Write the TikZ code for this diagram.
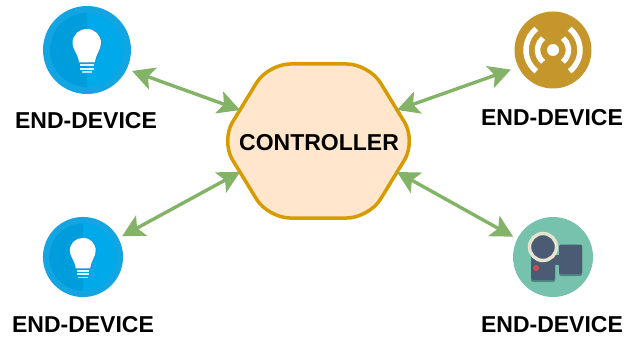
\documentclass[tikz,border=0pt]{standalone}
\usepackage{fontspec}
\setmainfont{Liberation Sans}
\usetikzlibrary{arrows.meta}
\definecolor{arrowgreen}{HTML}{82B366}
\definecolor{hexline}{HTML}{D79B00}
\definecolor{hexfill}{HTML}{FFE6CC}
\definecolor{bulbout}{HTML}{12A5E2}
\definecolor{bulbleft}{HTML}{009DDD}
\definecolor{bulbright}{HTML}{00A9EA}
\definecolor{bulbshade}{HTML}{0A86B8}
\definecolor{radio}{HTML}{C4962C}
\definecolor{camgreen}{HTML}{76C2AC}
\definecolor{cambody}{HTML}{4B5B74}
\definecolor{camshade}{HTML}{4A8A82}
\definecolor{camring}{HTML}{E6E3D2}
\definecolor{camred}{HTML}{C9504F}
\tikzset{
  x=1pt,y=-1pt,
  link/.style={line width=3.4pt,arrowgreen,{Stealth[length=22pt,width=23pt,inset=5pt]}-{Stealth[length=22pt,width=23pt,inset=5pt]}},
  devlabel/.style={font=\fontsize{23}{26}\selectfont\bfseries,inner sep=0pt},
  devdisc/.style={circle,inner sep=0pt,minimum size=#1},
  bulb/.pic={
    \fill[bulbout] (0,0) circle[radius=44];
    \begin{scope}
      \clip (0,0) circle[radius=37];
      \fill[bulbleft] (-40,-40) rectangle (0,40);
      \fill[bulbright] (0,-40) rectangle (40,40);
    \end{scope}
    \fill[bulbshade] (1,-20) .. controls (9,-21) and (15,-14) .. (14.7,-7) .. controls (14.4,-0.5) and (9.6,3) .. (8.6,13) -- (1,13) -- cycle;
    \fill[white] (0,-21) .. controls (-8,-21) and (-14.5,-15) .. (-14.5,-7) .. controls (-14.5,0) and (-9,3) .. (-8,12.5) -- (8,12.5) .. controls (9,3) and (14,0) .. (14,-7) .. controls (14,-15) and (8,-21) .. (0,-21) -- cycle;
    \fill[white!88!bulbright] (-7,14.5) rectangle (7,16.5);
    \fill[white!88!bulbright] (-7,18) rectangle (7,20);
    \fill[white!70!bulbright] (-5,21.5) rectangle (5,23.5);
  }
}
\begin{document}
\begin{tikzpicture}
\useasboundingbox (0,0) rectangle (624,337);
% controller
\draw[hexline,fill=hexfill,line width=3.5pt,rounded corners=22pt]
  (318.5,64) -- (369,64) -- (416,141) -- (369,218) -- (268,218) -- (221,141) -- (268,64) -- cycle;
\node[devlabel] (ctrl) at (319,143) {CONTROLLER};
\coordinate (hexTL) at (240,110);
\coordinate (hexBL) at (240,172);
\coordinate (hexTR) at (397,110);
\coordinate (hexBR) at (397,172);
% lamp, upper left
\node[devdisc=88pt,outer sep=5.7pt] (bulbA) at (87,50) {};
\pic[scale=1] at (87,50) {bulb};
% lamp, lower left
\node[devdisc=80pt,outer sep=4.3pt] (bulbB) at (83,257) {};
\pic[scale=0.91] at (83,257) {bulb};
% radio, upper right
\node[devdisc=77pt,outer sep=8pt] (radioC) at (553,50) {};
\begin{scope}[shift={(553,50)}]
  \fill[radio] (0,0) circle[radius=38.5];
  \fill[white] (0,0) circle[radius=6];
  \draw[white,line width=5.5pt] (130:15.5) arc[start angle=130,end angle=230,radius=15.5];
  \draw[white,line width=5.5pt] (128:27) arc[start angle=128,end angle=232,radius=27];
  \draw[white,line width=5.5pt] (50:15.5) arc[start angle=50,end angle=-50,radius=15.5];
  \draw[white,line width=5.5pt] (52:27) arc[start angle=52,end angle=-52,radius=27];
\end{scope}
% camera, lower right
\node[devdisc=80pt,outer sep=4.7pt] (camD) at (553,257) {};
\begin{scope}[shift={(553,257)}]
  \fill[camgreen] (0,0) circle[radius=40];
  \fill[camshade,rounded corners=1.5pt] (-22,-2) rectangle (2,25);
  \fill[camshade,rounded corners=1.5pt] (6,-12) rectangle (29,19);
  \fill[cambody,rounded corners=1.5pt] (-22,-2) rectangle (2,23);
  \fill[cambody] (2,-2) rectangle (6,8);
  \fill[cambody,rounded corners=1.5pt] (6,-12.5) rectangle (29,17);
  \draw[camring,fill=cambody,line width=3.4pt] (-10,-10) circle[radius=13.5];
  \fill[camred] (-17,11) circle[radius=3];
\end{scope}
% connectors
\draw[link] (bulbA.-25) -- (hexTL);
\draw[link] (bulbB.28) -- (hexBL);
\draw[link] (radioC.205) -- (hexTR);
\draw[link] (camD.153) -- (hexBR);
% labels
\node[devlabel] (labA) at (86,121) {END-DEVICE};
\node[devlabel] (labB) at (83,325) {END-DEVICE};
\node[devlabel] (labC) at (552,118) {END-DEVICE};
\node[devlabel] (labD) at (552,325) {END-DEVICE};
\end{tikzpicture}
\end{document}
